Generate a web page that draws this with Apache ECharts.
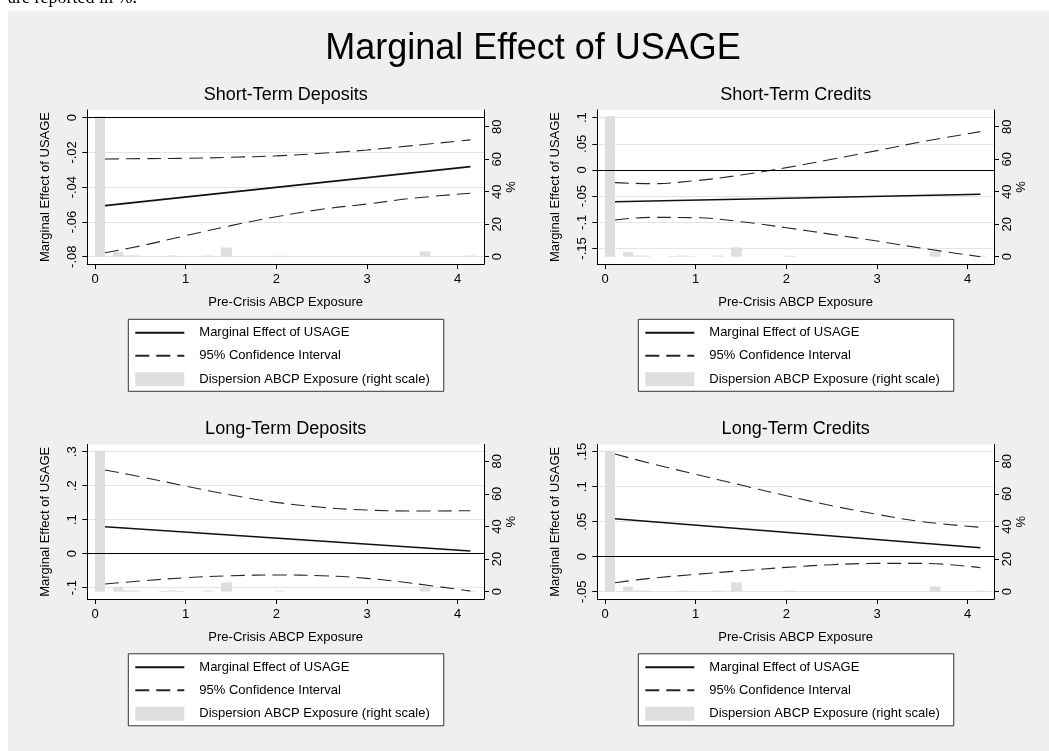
<!DOCTYPE html>
<html><head><meta charset="utf-8">
<script src="https://cdn.jsdelivr.net/npm/echarts@6/dist/echarts.min.js"></script>
<style>html,body{margin:0;padding:0;background:#fff;}#c{width:1049px;height:751px;}</style>
</head><body><div id="c"></div>
<script>
// ---- data ----
const mainTitle = 'Marginal Effect of USAGE';
const topNote = 'are reported in %.';
const panelTitles = ['Short-Term Deposits', 'Short-Term Credits', 'Long-Term Deposits', 'Long-Term Credits'];
const yAxisName = 'Marginal Effect of USAGE';
const xAxisName = 'Pre-Crisis ABCP Exposure';
const rightAxisName = '%';
const legendNames = ['Marginal Effect of USAGE', '95% Confidence Interval', 'Dispersion ABCP Exposure (right scale)'];

const estX = [0.11, 4.14];
const ciX = [0.11, 0.5, 1, 1.5, 2, 2.5, 3, 3.5, 4.14];

const stdEst = [-0.0506, -0.0282];
const stdUpper = [-0.0238, -0.0236, -0.0234, -0.0228, -0.0220, -0.0205, -0.0186, -0.0161, -0.0128];
const stdLower = [-0.0777, -0.0738, -0.0679, -0.0621, -0.0570, -0.0527, -0.0497, -0.0464, -0.0435];

const stcEst = [-0.0606, -0.0465];
const stcUpper = [-0.0242, -0.0261, -0.0204, -0.0096, 0.0045, 0.0204, 0.0370, 0.0541, 0.0733];
const stcLower = [-0.0956, -0.0905, -0.0912, -0.0988, -0.1103, -0.1230, -0.1358, -0.1497, -0.1658];

const ltdEst = [0.0794, 0.0079];
const ltdUpper = [0.246, 0.2265, 0.199, 0.1726, 0.151, 0.1365, 0.1285, 0.1256, 0.1265];
const ltdLower = [-0.089, -0.0803, -0.0706, -0.0647, -0.0626, -0.0647, -0.0725, -0.087, -0.1097];

const ltcEst = [0.0543, 0.0129];
const ltcUpper = [0.1467, 0.1334, 0.1177, 0.1024, 0.0871, 0.0729, 0.0605, 0.050, 0.042];
const ltcLower = [-0.0371, -0.0309, -0.0252, -0.020, -0.0152, -0.0114, -0.0095, -0.0095, -0.0157];

// histogram of exposure (percent of obs.)
const binStart = [0, 0.2, 0.31, 0.41, 0.7, 0.8, 0.9, 1.19, 1.39, 1.98, 3.58, 4.09];
const binEnd   = [0.11, 0.31, 0.41, 0.5, 0.8, 0.9, 0.99, 1.3, 1.51, 2.1, 3.7, 4.2];
const binPct   = [86.5, 3.0, 0.8, 0.7, 0.4, 0.8, 0.4, 0.7, 5.7, 0.6, 3.2, 0.7];

const xTicks = [0, 1, 2, 3, 4];
const pctTicks = [0, 20, 40, 60, 80];
const stdTicks = [0, -0.02, -0.04, -0.06, -0.08];
const stcTicks = [0.1, 0.05, 0, -0.05, -0.1, -0.15];
const ltdTicks = [0.3, 0.2, 0.1, 0, -0.1];
const ltcTicks = [0.15, 0.1, 0.05, 0, -0.05];

// ---- layout ----
const FONT = '"Liberation Sans", Arial, Helvetica, sans-serif';
const xRange = [-0.085, 4.29];
const pctRange = [-4.5, 90.3];
const panels = [
  {left: 87.3, top: 110, h: 154, ticks: stdTicks, range: [-0.0842, 0.0044], est: stdEst, up: stdUpper, lo: stdLower},
  {left: 597.3, top: 110, h: 154, ticks: stcTicks, range: [-0.1797, 0.1147], est: stcEst, up: stcUpper, lo: stcLower},
  {left: 87.3, top: 444.5, h: 154.5, ticks: ltdTicks, range: [-0.1332, 0.3212], est: ltdEst, up: ltdUpper, lo: ltdLower},
  {left: 597.3, top: 444.5, h: 154.5, ticks: ltcTicks, range: [-0.0604, 0.1603], est: ltcEst, up: ltcUpper, lo: ltcLower}
];
const W = 396.7;

const fmt = v => String(Math.round(v * 1000) / 1000).replace(/^(-?)0\./, '$1.');
const pairs = (xs, ys) => xs.map((x, i) => [x, ys[i]]);
const histData = binStart.map((s, i) => [s, binEnd[i], binPct[i]]);

const grid = [], xAxis = [], yAxis = [], series = [], legend = [], graphic = [];

graphic.push({type: 'rect', z: -10, shape: {x: 8, y: 11, width: 1041, height: 740}, style: {fill: '#efefef'}});
graphic.push({type: 'text', z: 5, style: {text: topNote, x: 8, y: 7.5, font: '18px "Liberation Serif", "DejaVu Serif", serif', fill: '#000', align: 'left', verticalAlign: 'bottom'}});
graphic.push({type: 'text', z: 5, style: {text: mainTitle, x: 533, y: 49, font: '36px ' + FONT, fill: '#000', align: 'center', verticalAlign: 'middle'}});

const axisTxt = {color: '#000', fontSize: 13, fontFamily: FONT};
const noSymbol = {color: 'rgba(0,0,0,0)', borderColor: 'rgba(0,0,0,0)', borderWidth: 0, opacity: 0};

panels.forEach((p, i) => {
  grid.push({left: p.left, top: p.top, width: W, height: p.h, show: true, backgroundColor: '#fff', borderWidth: 0, containLabel: false});
  graphic.push({type: 'text', z: 5, style: {text: panelTitles[i], x: p.left + W / 2, y: p.top - 15, font: '18px ' + FONT, fill: '#000', align: 'center', verticalAlign: 'middle'}});
  xAxis.push({
    type: 'value', gridIndex: i, min: xRange[0], max: xRange[1],
    name: xAxisName, nameLocation: 'middle', nameGap: 32, nameTextStyle: axisTxt,
    axisLine: {show: true, onZero: false, lineStyle: {color: '#000', width: 1}},
    axisTick: {show: true, length: 5, customValues: xTicks, lineStyle: {color: '#000'}},
    axisLabel: {customValues: xTicks, margin: 9, ...axisTxt},
    splitLine: {show: false}
  });
  yAxis.push({
    type: 'value', gridIndex: i, position: 'left', min: p.range[0], max: p.range[1],
    name: yAxisName, nameLocation: 'middle', nameRotate: 90, nameGap: 35, nameTextStyle: axisTxt,
    axisLine: {show: true, onZero: false, lineStyle: {color: '#000', width: 1}},
    axisTick: {show: true, length: 5, customValues: p.ticks, lineStyle: {color: '#000'}},
    axisLabel: {customValues: p.ticks, rotate: 90, margin: 8, formatter: fmt, ...axisTxt},
    splitLine: {show: true, lineStyle: {color: '#e4e4e4', width: 1}}
  });
  yAxis.push({
    type: 'value', gridIndex: i, position: 'right', min: pctRange[0], max: pctRange[1],
    name: rightAxisName, nameLocation: 'middle', nameRotate: 90, nameGap: 20, nameTextStyle: axisTxt,
    axisLine: {show: true, onZero: false, lineStyle: {color: '#000', width: 1}},
    axisTick: {show: true, length: 5, customValues: pctTicks, lineStyle: {color: '#000'}},
    axisLabel: {customValues: pctTicks, rotate: 90, margin: 7, ...axisTxt},
    splitLine: {show: false}
  });
  series.push({
    type: 'custom', name: legendNames[2], xAxisIndex: i, yAxisIndex: 2 * i + 1,
    data: histData, itemStyle: {color: '#dedede'},
    encode: {x: [0, 1], y: 2},
    renderItem: (params, api) => {
      const a = api.coord([api.value(0), api.value(2)]);
      const b = api.coord([api.value(1), 0]);
      return {type: 'rect', shape: {x: a[0], y: a[1], width: b[0] - a[0], height: b[1] - a[1]}, style: {fill: '#dedede'}};
    }
  });
  const ciStyle = {color: '#262626', width: 1.1, type: [14, 7]};
  series.push({type: 'line', name: legendNames[1], xAxisIndex: i, yAxisIndex: 2 * i, data: pairs(ciX, p.up), smooth: 0.4, symbol: 'none', lineStyle: ciStyle, itemStyle: {color: '#262626'}});
  series.push({type: 'line', name: legendNames[1], xAxisIndex: i, yAxisIndex: 2 * i, data: pairs(ciX, p.lo), smooth: 0.4, symbol: 'none', lineStyle: ciStyle, itemStyle: {color: '#262626'}});
  series.push({
    type: 'line', name: legendNames[0], xAxisIndex: i, yAxisIndex: 2 * i, data: pairs(estX, p.est), symbol: 'none',
    lineStyle: {color: '#111', width: 1.6}, itemStyle: {color: '#111'},
    markLine: {silent: true, symbol: 'none', label: {show: false}, lineStyle: {color: '#000', width: 1.2, type: 'solid'}, data: [{yAxis: 0}]}
  });
  legend.push({
    orient: 'vertical', left: p.left + 41, top: p.top + 209.3, itemWidth: 49, itemHeight: 14, itemGap: 10,
    padding: [7, 14, 5, 6], backgroundColor: '#fff', borderColor: '#333', borderWidth: 1, borderRadius: 0,
    selectedMode: false,
    textStyle: {fontSize: 13, color: '#000', fontFamily: FONT, padding: [0, 0, 0, 10]},
    data: [
      {name: legendNames[0], itemStyle: noSymbol},
      {name: legendNames[1], itemStyle: noSymbol},
      {name: legendNames[2], icon: 'rect', itemStyle: {color: '#dedede'}}
    ]
  });
});

const chart = echarts.init(document.getElementById('c'), null, {renderer: 'canvas'});
chart.setOption({
  backgroundColor: '#fff', animation: false, textStyle: {fontFamily: FONT},
  grid, xAxis, yAxis, series, legend, graphic
});
</script></body></html>
